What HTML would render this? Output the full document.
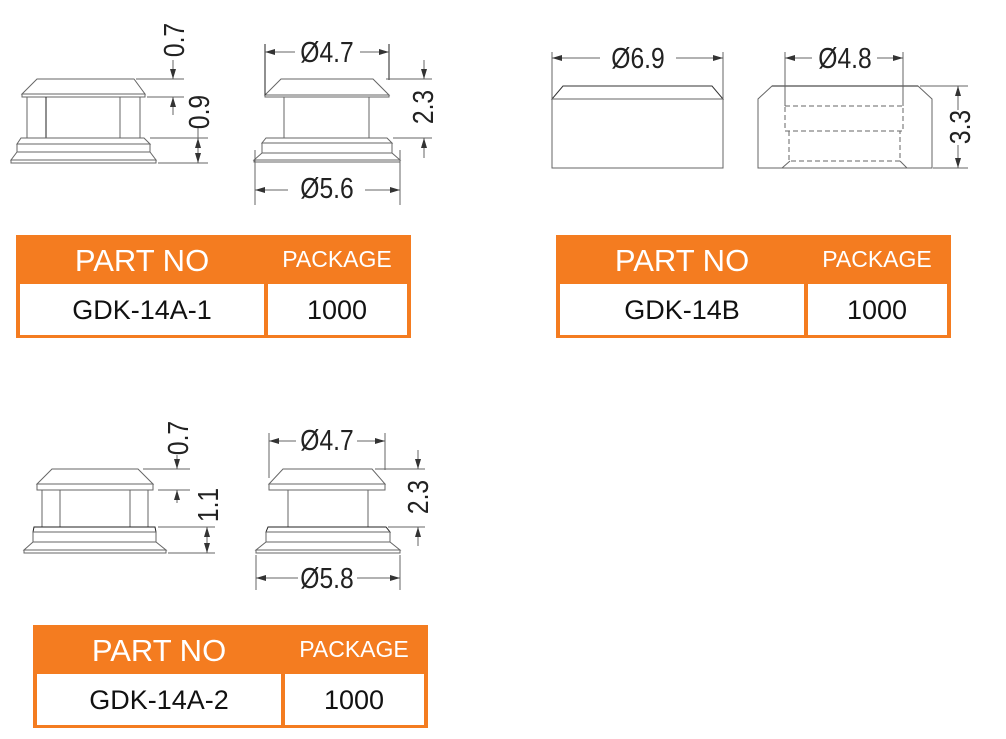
<!DOCTYPE html>
<html><head><meta charset="utf-8"><style>
html,body{margin:0;padding:0;background:#fff;}
svg{display:block;}
text{font-family:"Liberation Sans",Arial,sans-serif;}
</style></head><body>
<svg width="1006" height="739" viewBox="0 0 1006 739" xmlns="http://www.w3.org/2000/svg">
<defs>
<marker id="a" viewBox="0 0 10 6" refX="10" refY="3" markerWidth="10" markerHeight="6" markerUnits="userSpaceOnUse" orient="auto"><path d="M0,0 L10,3 L0,6 z" fill="#333"/></marker>
</defs>
<g fill="none" stroke="#666" stroke-width="1">
<path d="M37,79 L134,79 L145,94 L22,94 Z"/>
<rect x="22" y="94" width="123" height="3"/>
<path d="M27,97 V138 M140,97 V138 M120,97 V138"/>
<path d="M46,97 V138" stroke="#222"/>
<path d="M21,138 L144,138 L150,144 L17,144 Z"/>
<rect x="17" y="144" width="133" height="8"/>
<path d="M17,152 L150,152 L156,160 L11,160 Z"/>
<rect x="11" y="160" width="145" height="3"/>
<path d="M136,79 H184 M147,97 H184 M150,138 H208 M158,163 H208"/>
<path d="M173,60 V79" marker-end="url(#a)"/>
<path d="M173,115 V97" marker-end="url(#a)"/>
<path d="M198,128 V138" />
<path d="M198,150 V138" marker-end="url(#a)"/>
<path d="M198,150 V163" marker-end="url(#a)"/>

<path d="M281,79 L373,79 L389,95 L265,95 Z"/>
<rect x="265" y="95" width="124" height="2"/>
<path d="M284,97 V138 M369,97 V138"/>
<path d="M266,138 L387,138 L392,143 L262,143 Z"/>
<rect x="262" y="143" width="130" height="10"/>
<path d="M262,153 L392,153 L400,160 L254,160 Z"/>
<rect x="254" y="160" width="146" height="2"/>
<path d="M265,44 V95 M389,44 V80" stroke="#222"/>
<path d="M295,52 H265" marker-end="url(#a)"/>
<path d="M360,52 H389" marker-end="url(#a)"/>
<path d="M255,150 V205 M400,150 V205"/>
<path d="M288,190 H255" marker-end="url(#a)"/>
<path d="M365,190 H400" marker-end="url(#a)"/>
<path d="M386,79 H432 M393,138 H432"/>
<path d="M424,60 V79" marker-end="url(#a)"/>
<path d="M424,158 V138" marker-end="url(#a)"/>

<path d="M563,86 L712,86 L723,99 L552,99 Z" stroke="#333"/>
<rect x="552" y="99" width="171" height="69"/>
<path d="M552,52 V99 M723,52 V99"/>
<path d="M600,58 H552" marker-end="url(#a)"/>
<path d="M676,58 H723" marker-end="url(#a)"/>
<path d="M772,86 L918,86 L932,99 L932,168 L758,168 L758,99 Z"/>
<path d="M772,86 H918" stroke="#222"/>
<path d="M782,168 L790,161 M907,168 L900,161"/>
<rect x="785" y="106" width="118" height="25" stroke-dasharray="5,3"/>
<path d="M789,131 V161 H900 V131" stroke-dasharray="5,3"/>
<path d="M785,52 V106 M903,52 V106"/>
<path d="M812,58 H785" marker-end="url(#a)"/>
<path d="M877,58 H903" marker-end="url(#a)"/>
<path d="M920,86 H968 M933,168 H968"/>
<path d="M958,110 V86" marker-end="url(#a)"/>
<path d="M958,145 V168" marker-end="url(#a)"/>

<path d="M52,469 L138,469 L153,484 L37,484 Z"/>
<rect x="37" y="484" width="116" height="6"/>
<path d="M42,490 V527 M148,490 V527 M60,490 V527 M130,490 V527"/>
<path d="M34,527 L155,527 L156,532 L33,532 Z" stroke="#222"/>
<rect x="33" y="532" width="123" height="10"/>
<path d="M33,542 L156,542 L166,550 L24,550 Z"/>
<rect x="24" y="550" width="142" height="3"/>
<path d="M143,469 H190 M158,490 H190 M158,527 H215 M168,553 H215"/>
<path d="M177,455 V469" marker-end="url(#a)"/>
<path d="M177,503 V490" marker-end="url(#a)"/>
<path d="M207,540 V527" marker-end="url(#a)"/>
<path d="M207,540 V553" marker-end="url(#a)"/>
<path d="M283,469 L372,469 L385,484 L269,484 Z"/>
<rect x="269" y="484" width="116" height="6"/>
<path d="M288,490 V527 M368,490 V527"/>
<path d="M268,527 L386,527 L390,532 L266,532 Z" stroke="#222"/>
<rect x="266" y="532" width="124" height="10"/>
<path d="M266,542 L390,542 L400,550 L256,550 Z"/>
<rect x="256" y="550" width="144" height="3"/>
<path d="M269,433 V478 M385,433 V470"/>
<path d="M296,441 H269" marker-end="url(#a)"/>
<path d="M357,441 H385" marker-end="url(#a)"/>
<path d="M256,555 V590 M400,555 V590"/>
<path d="M298,578 H256" marker-end="url(#a)"/>
<path d="M357,578 H400" marker-end="url(#a)"/>
<path d="M375,469 H425 M388,527 H425"/>
<path d="M418,450 V469" marker-end="url(#a)"/>
<path d="M418,546 V527" marker-end="url(#a)"/>
</g>

<g fill="#222" font-size="29" text-anchor="middle">
<text transform="translate(184,40) rotate(-90) scale(0.85,1)">0.7</text>
<text transform="translate(209,112) rotate(-90) scale(0.85,1)">0.9</text>
<text transform="translate(327,62) scale(0.85,1)">Ø4.7</text>
<text transform="translate(327,198) scale(0.85,1)">Ø5.6</text>
<text transform="translate(433,107) rotate(-90) scale(0.85,1)">2.3</text>
<text transform="translate(638,68) scale(0.85,1)">Ø6.9</text>
<text transform="translate(845,68) scale(0.85,1)">Ø4.8</text>
<text transform="translate(970,127) rotate(-90) scale(0.85,1)">3.3</text>
<text transform="translate(188,438) rotate(-90) scale(0.85,1)">0.7</text>
<text transform="translate(218,505) rotate(-90) scale(0.85,1)">1.1</text>
<text transform="translate(327,450) scale(0.85,1)">Ø4.7</text>
<text transform="translate(327,588) scale(0.85,1)">Ø5.8</text>
<text transform="translate(428,497) rotate(-90) scale(0.85,1)">2.3</text>
</g>

<g>
<rect x="16" y="235" width="395" height="103" fill="#f47c20"/>
<rect x="20" y="284" width="244" height="51" fill="#fff"/>
<rect x="268" y="284" width="139" height="51" fill="#fff"/>
<text x="142" y="271" font-size="31" fill="#fff" text-anchor="middle">PART NO</text>
<text x="337" y="267" font-size="23" fill="#fff" text-anchor="middle">PACKAGE</text>
<text x="142" y="319" font-size="27" fill="#111" text-anchor="middle">GDK-14A-1</text>
<text x="337" y="319" font-size="27" fill="#111" text-anchor="middle">1000</text>
</g>
<g transform="translate(540,0)">
<rect x="16" y="235" width="395" height="103" fill="#f47c20"/>
<rect x="20" y="284" width="244" height="51" fill="#fff"/>
<rect x="268" y="284" width="139" height="51" fill="#fff"/>
<text x="142" y="271" font-size="31" fill="#fff" text-anchor="middle">PART NO</text>
<text x="337" y="267" font-size="23" fill="#fff" text-anchor="middle">PACKAGE</text>
<text x="142" y="319" font-size="27" fill="#111" text-anchor="middle">GDK-14B</text>
<text x="337" y="319" font-size="27" fill="#111" text-anchor="middle">1000</text>
</g>
<g transform="translate(17,390)">
<rect x="16" y="235" width="395" height="103" fill="#f47c20"/>
<rect x="20" y="284" width="244" height="51" fill="#fff"/>
<rect x="268" y="284" width="139" height="51" fill="#fff"/>
<text x="142" y="271" font-size="31" fill="#fff" text-anchor="middle">PART NO</text>
<text x="337" y="267" font-size="23" fill="#fff" text-anchor="middle">PACKAGE</text>
<text x="142" y="319" font-size="27" fill="#111" text-anchor="middle">GDK-14A-2</text>
<text x="337" y="319" font-size="27" fill="#111" text-anchor="middle">1000</text>
</g>
</svg>
</body></html>
